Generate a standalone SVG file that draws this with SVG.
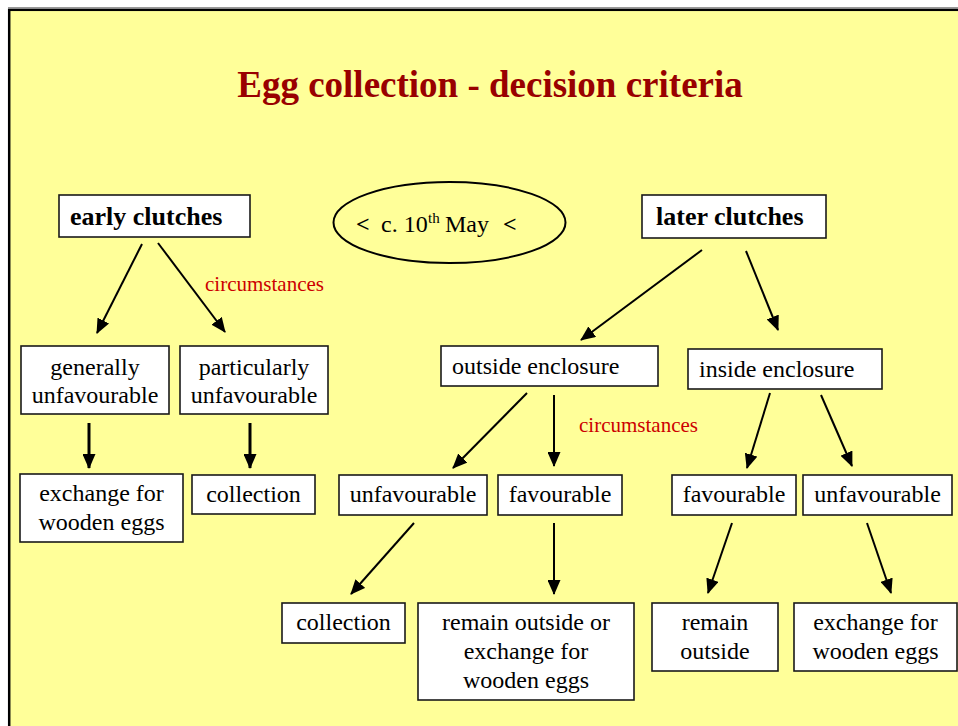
<svg xmlns="http://www.w3.org/2000/svg" width="958" height="726" viewBox="0 0 958 726" font-family="'Liberation Serif', 'Times New Roman', serif">
<style>
.box{fill:#fff;stroke:#1a1a1a;stroke-width:1.6}
.t{font-size:24px;fill:#000}
.c{text-anchor:middle}
.b{font-weight:bold;font-size:26px}
.red{font-size:21px;fill:#cc0000}
.arr{stroke:#000;stroke-width:2;fill:none;marker-end:url(#ah)}
.thick{stroke-width:3}
</style>
<defs>
<marker id="ah" markerUnits="userSpaceOnUse" markerWidth="15" markerHeight="13" refX="14" refY="6.5" orient="auto">
<path d="M0,0 L15,6.5 L0,13 z" fill="#000"/>
</marker>
</defs>
<rect x="0" y="0" width="958" height="726" fill="#fff"/>
<line x1="8" y1="7.5" x2="958" y2="7.5" stroke="#999" stroke-width="1"/>
<rect x="9.2" y="9.8" width="1000" height="800" fill="#ffff99" stroke="#000" stroke-width="2.5"/>

<text id="title" x="490" y="97" text-anchor="middle" font-family="'Liberation Serif', 'Times New Roman', serif" font-size="37" font-weight="bold" fill="#990000">Egg collection - decision criteria</text>

<g id="early-clutches" font-family="'Liberation Serif', 'Times New Roman', serif"><rect class="box" x="59" y="195" width="191" height="42"/><text class="t b" x="70" y="225">early clutches</text></g>

<g id="date" font-family="'Liberation Serif', 'Times New Roman', serif"><ellipse cx="449.5" cy="222.5" rx="116" ry="40.5" fill="none" stroke="#000" stroke-width="2"/>
<text class="t" y="232"><tspan x="356" font-weight="bold">&lt;</tspan><tspan x="381">c. 10</tspan><tspan x="428" y="223" font-size="15">th</tspan><tspan x="445" y="232">May</tspan><tspan x="503" font-weight="bold">&lt;</tspan></text></g>

<g id="later-clutches" font-family="'Liberation Serif', 'Times New Roman', serif"><rect class="box" x="642" y="195" width="184" height="43"/><text class="t b" x="656" y="225">later clutches</text></g>

<g id="labels" font-family="'Liberation Serif', 'Times New Roman', serif">
<text id="circ1" class="red" x="205" y="291">circumstances</text>
<text id="circ2" class="red" x="579" y="432">circumstances</text>
</g>

<g font-family="'Liberation Serif', 'Times New Roman', serif">
<g id="generally"><rect class="box" x="21" y="346" width="148" height="68"/><text class="t c" x="95" y="375">generally</text><text class="t c" x="95" y="403">unfavourable</text></g>
<g id="particularly"><rect class="box" x="180" y="346" width="148" height="68"/><text class="t c" x="254" y="375">particularly</text><text class="t c" x="254" y="403">unfavourable</text></g>

<g id="outside"><rect class="box" x="441" y="346" width="217" height="40"/><text class="t" x="452" y="374">outside enclosure</text></g>
<g id="inside"><rect class="box" x="688" y="349" width="194" height="40"/><text class="t" x="699" y="377">inside enclosure</text></g>

<g id="exchange-left"><rect class="box" x="20" y="474" width="163" height="68"/><text class="t c" x="101.5" y="501">exchange for</text><text class="t c" x="101.5" y="530">wooden eggs</text></g>
<g id="collection-left"><rect class="box" x="192" y="475" width="123" height="39"/><text class="t c" x="253.5" y="502">collection</text></g>

<g id="unfav-mid"><rect class="box" x="339" y="475" width="148" height="40"/><text class="t c" x="413" y="502">unfavourable</text></g>
<g id="fav-mid"><rect class="box" x="498" y="475" width="124" height="40"/><text class="t c" x="560" y="502">favourable</text></g>
<g id="fav-right"><rect class="box" x="672" y="475" width="124" height="40"/><text class="t c" x="734" y="502">favourable</text></g>
<g id="unfav-right"><rect class="box" x="803" y="475" width="149" height="40"/><text class="t c" x="877.5" y="502">unfavourable</text></g>

<g id="collection-bottom"><rect class="box" x="282" y="603" width="123" height="40"/><text class="t c" x="343.5" y="630">collection</text></g>
<g id="remain-or-exchange"><rect class="box" x="418" y="603" width="216" height="97"/><text class="t c" x="526" y="630">remain outside or</text><text class="t c" x="526" y="659">exchange for</text><text class="t c" x="526" y="688">wooden eggs</text></g>
<g id="remain-outside"><rect class="box" x="652" y="603" width="126" height="68"/><text class="t c" x="715" y="630">remain</text><text class="t c" x="715" y="659">outside</text></g>
<g id="exchange-right"><rect class="box" x="794" y="603" width="163" height="68"/><text class="t c" x="875.5" y="630">exchange for</text><text class="t c" x="875.5" y="659">wooden eggs</text></g>
</g>

<g id="connectors">
<line class="arr" x1="142" y1="244" x2="97" y2="333"/>
<line class="arr" x1="158" y1="243" x2="225" y2="332"/>
<line class="arr thick" x1="89" y1="423" x2="89" y2="468"/>
<line class="arr thick" x1="250" y1="423" x2="250" y2="468"/>
<line class="arr" x1="702" y1="250" x2="581" y2="340"/>
<line class="arr" x1="746" y1="251" x2="778" y2="330"/>
<line class="arr" x1="527" y1="393" x2="453" y2="468"/>
<line class="arr" x1="554" y1="395" x2="554" y2="466"/>
<line class="arr" x1="770" y1="393" x2="747" y2="468"/>
<line class="arr" x1="821" y1="395" x2="852" y2="466"/>
<line class="arr" x1="414" y1="523" x2="351" y2="594"/>
<line class="arr" x1="554" y1="523" x2="554" y2="594"/>
<line class="arr" x1="732" y1="523" x2="708" y2="593"/>
<line class="arr" x1="867" y1="523" x2="891" y2="593"/>
</g>
</svg>
